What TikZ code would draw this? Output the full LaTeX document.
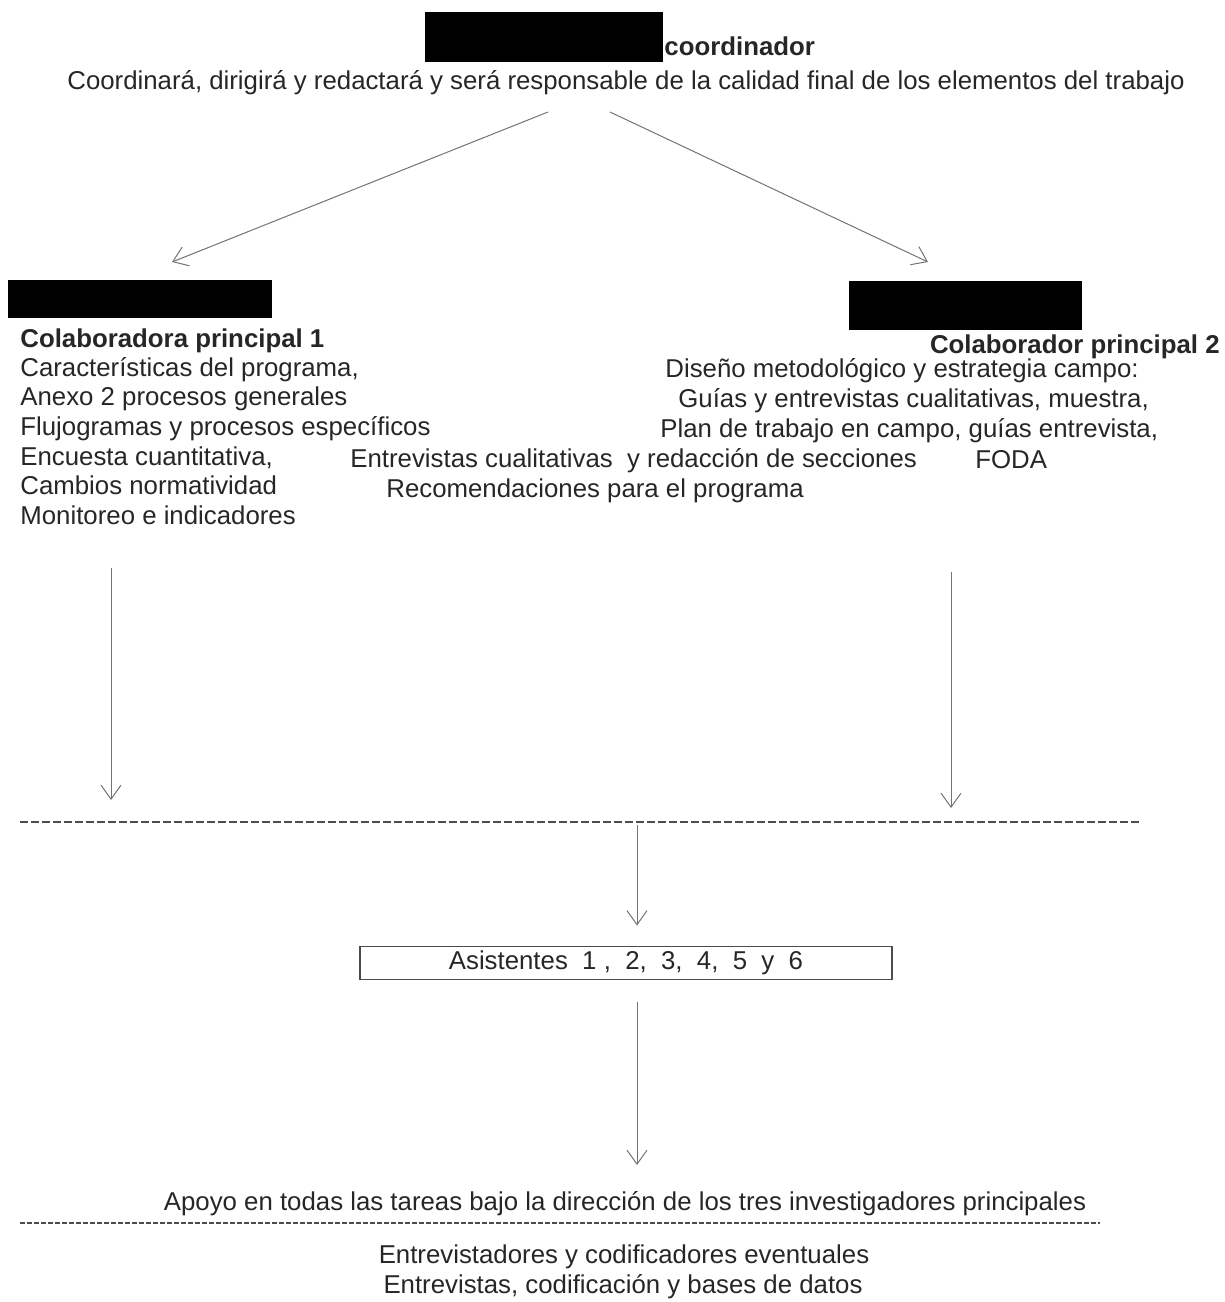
\documentclass[tikz,border=0pt]{standalone}
\usepackage{fontspec}
\setmainfont{Liberation Sans}
\usetikzlibrary{arrows.meta, positioning}

\tikzset{
  txt/.style={inner sep=0pt, anchor=mid west, yshift=-2pt, text=black!85, font=\fontsize{12.9}{15}\selectfont},
  ctxt/.style={txt, anchor=mid},
  head/.style={txt, font=\fontsize{12.9}{15}\selectfont\bfseries},
  link/.style={draw=black!55, line width=0.5pt, -{Straight Barb[length=7pt,width=10pt]}},
  redact/.style={fill=black, draw=none},
  sep/.style={draw=black!70, line width=0.6pt, dash pattern=on 4pt off 1.5pt},
}

\begin{document}
\begin{tikzpicture}[x=0.5pt, y=-0.5pt]
\useasboundingbox (0,0) rectangle (1225,1302);

    % Coordinator
    \fill[redact] (425,12) rectangle (663,62);
    \node[head] (coord) at (664,46) {coordinador};
    \node[ctxt] (coordtask) at (626,80) {Coordinará, dirigirá y redactará y será responsable de la calidad final de los elementos del trabajo};

    % Arrows to the two collaborators
    \coordinate (fromL) at (548,112);
    \coordinate (fromR) at (610,112);
    \coordinate (toL) at (172,262);
    \coordinate (toR) at (928,262);
    \draw[link] (fromL) -- (toL);
    \draw[link] (fromR) -- (toR);

    % Collaborator 1
    \fill[redact] (8,280) rectangle (272,318);
    \node[head] (colab1) at (20,338) {Colaboradora principal 1};
    \node[txt] (c1a) at (20,367) {Características del programa,};
    \node[txt] (c1b) at (20,396) {Anexo 2 procesos generales};
    \node[txt] (c1c) at (20,426) {Flujogramas y procesos específicos};
    \node[txt] (c1d) at (20,456) {Encuesta cuantitativa,};
    \node[txt] (c1e) at (20,485) {Cambios normatividad};
    \node[txt] (c1f) at (20,515) {Monitoreo e indicadores};

    % Shared tasks
    \node[txt] (shared1) at (350,458) {Entrevistas cualitativas \ y redacción de secciones};
    \node[txt] (shared2) at (386,488) {Recomendaciones para el programa};

    % Collaborator 2
    \fill[redact] (849,281) rectangle (1082,330);
    \node[head, anchor=mid east] (colab2) at (1220,344) {Colaborador principal 2};
    \node[txt] (c2a) at (665,368) {Diseño metodológico y estrategia campo:};
    \node[txt] (c2b) at (678,398) {Guías y entrevistas cualitativas, muestra,};
    \node[txt] (c2c) at (660,428) {Plan de trabajo en campo, guías entrevista,};
    \node[txt] (c2d) at (975,459) {FODA};

    % Down to the separator
    \coordinate (downL) at (111,568);
    \coordinate (downR) at (951,572);
    \coordinate (sepL) at (111,800);
    \coordinate (sepR) at (951,808);
    \draw[link] (downL) -- (sepL);
    \draw[link] (downR) -- (sepR);
    \draw[sep] (20,822) -- (1140,822);

    % Assistants
    \coordinate (mid) at (637,825);
    \node[ctxt, yshift=2pt, draw=black!70, line width=0.6pt, minimum width=266pt, minimum height=16.5pt] (asist) at (626,962) {\raisebox{-1pt}{Asistentes \ 1 , \ 2, \ 3, \ 4, \ 5 \ y \ 6}};
    \draw[link, shorten >=10pt] (mid) -- (mid |- asist.north);
    \coordinate (support) at (637,1165);
    \draw[link, shorten <=11pt] (mid |- asist.south) -- (support);

    % Support staff
    \node[ctxt] (apoyo) at (625,1201) {Apoyo en todas las tareas bajo la dirección de los tres investigadores principales};
    \draw[sep, dash pattern=on 2.5pt off 1pt, line width=0.7pt] (20,1223) -- (1100,1223);
    \node[ctxt] (eventual) at (624,1254) {Entrevistadores y codificadores eventuales};
    \node[ctxt] (eventask) at (623,1284) {Entrevistas, codificación y bases de datos};
\end{tikzpicture}
\end{document}
